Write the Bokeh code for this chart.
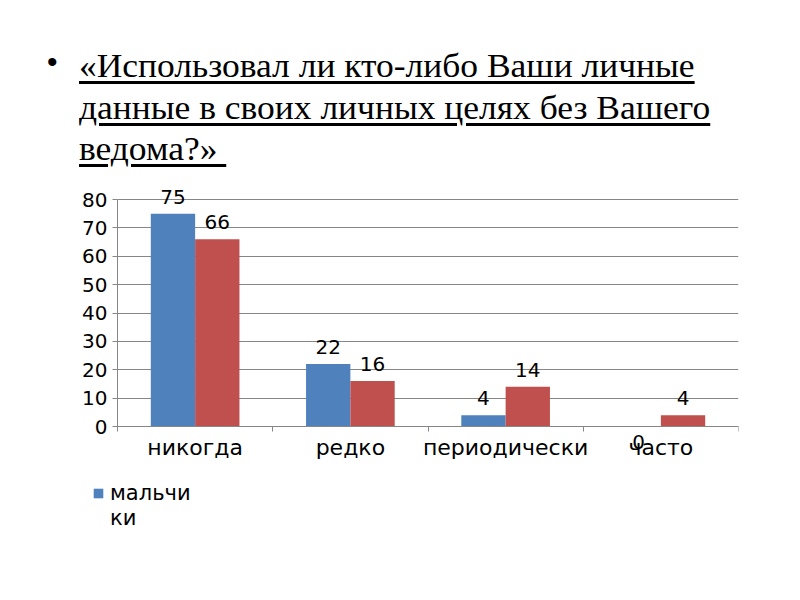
from bokeh.plotting import figure
from bokeh.models import (ColumnDataSource, FixedTicker, LabelSet, Legend, LegendItem,
                          Div, Range1d, Grid)
from bokeh.core.properties import value
from bokeh.transform import dodge
from bokeh.layouts import column
from bokeh.embed import file_html
from bokeh.resources import INLINE

# ---- data ----
title_lines = ["«Использовал ли кто-либо Ваши личные",
               "данные в своих личных целях без Вашего",
               "ведома?» "]
categories = ["никогда", "редко", "периодически", "часто"]
boys = [75, 22, 4, 0]
girls = [66, 16, 14, 4]
legend_labels = ["мальчи", "ки"]          # the legend entry is wrapped over two lines
y_ticks = [0, 10, 20, 30, 40, 50, 60, 70, 80]

BLUE = "#4F81BD"
RED = "#C0504D"
GRAY = "#868686"
FONT = "DejaVu Sans"

# ---- title (div) ----
title_html = (
    '<div style="position:relative;width:790px;height:180px;">'
    '<div style="position:absolute;left:47px;top:47px;font-family:\'Liberation Sans\',sans-serif;'
    'font-size:30px;line-height:30px;color:#000;">&#8226;</div>'
    '<div style="position:absolute;left:79px;top:46px;font-family:\'Liberation Serif\',serif;'
    'font-size:33px;line-height:41.5px;color:#000;white-space:pre;transform:scaleX(1.075);'
    'transform-origin:left top;text-decoration:underline;text-decoration-thickness:2.5px;'
    'text-underline-offset:4px;">'
    + "\n".join(title_lines) +
    '</div></div>'
)
title_div = Div(text=title_html, width=790, height=180, margin=0)

# ---- chart geometry (screen layout) ----
FIG_W, FIG_H = 790, 410
FR_L, FR_R, FR_T, FR_B = 50, 738, 3, 365          # frame edges inside the figure
X0_PX, Y0_PX, Y80_PX = 117, 246, 19               # where x=0, y=0 and y=80 fall inside the figure
n = len(categories)
ppx = (FR_R - X0_PX) / n
ppy = (Y0_PX - Y80_PX) / y_ticks[-1]
x_range = Range1d(-(X0_PX - FR_L) / ppx, n)
y_range = Range1d(-(FR_B - Y0_PX) / ppy, y_ticks[-1] + (Y80_PX - FR_T) / ppy)

xs = [i + 0.5 for i in range(n)]
src = ColumnDataSource(dict(
    x=xs, boys=boys, girls=girls,
    boys_lbl=[str(v) for v in boys], girls_lbl=[str(v) for v in girls],
    boys_off=[10 if v > 0 else -22 for v in boys],
    girls_off=[10 if v > 0 else -22 for v in girls],
))

p = figure(width=FIG_W, height=FIG_H, x_range=x_range, y_range=y_range,
           output_backend="svg", toolbar_location=None,
           min_border_left=FR_L, min_border_right=FIG_W - FR_R,
           min_border_top=FR_T, min_border_bottom=FIG_H - FR_B)
p.outline_line_color = None
p.background_fill_color = "white"

bw = 0.2855
off = 0.1428
r_boys = p.vbar(x=dodge("x", -off, range=p.x_range), top="boys", width=bw, source=src,
                fill_color=BLUE, line_color=None)
r_girls = p.vbar(x=dodge("x", off, range=p.x_range), top="girls", width=bw, source=src,
                 fill_color=RED, line_color=None)

for fld, lbl, o, d in (("boys", "boys_lbl", "boys_off", -off), ("girls", "girls_lbl", "girls_off", off)):
    ls = LabelSet(x=dodge("x", d, range=p.x_range), y=fld, text=lbl, y_offset=o, source=src,
                  text_align="center", text_baseline="alphabetic",
                  text_font=value(FONT), text_font_size="20px", text_color="black")
    p.add_layout(ls)

# y axis (drawn at x = 0)
p.yaxis.fixed_location = 0
p.yaxis.bounds = (0, y_ticks[-1])
p.yaxis.ticker = FixedTicker(ticks=y_ticks)
p.yaxis.axis_line_color = GRAY
p.yaxis.major_tick_line_color = GRAY
p.yaxis.major_tick_out = 5
p.yaxis.major_tick_in = 0
p.yaxis.minor_tick_line_color = None
p.yaxis.major_label_standoff = 5
p.yaxis.major_label_text_font = FONT
p.yaxis.major_label_text_font_size = "20px"
p.yaxis.major_label_text_color = "black"

p.ygrid.ticker = FixedTicker(ticks=y_ticks)
p.ygrid.grid_line_color = GRAY
p.xgrid.visible = False
if "cross_bounds" in Grid.properties():
    p.ygrid.cross_bounds = (0, n)
    p.ygrid.bounds = (0, y_ticks[-1])
else:
    p.ygrid.visible = False
    p.segment(x0=0, x1=n, y0=y_ticks, y1=y_ticks, line_color=GRAY, line_width=1)

# x axis (drawn at y = 0)
p.xaxis.fixed_location = 0
p.xaxis.bounds = (0, n)
p.xaxis.ticker = FixedTicker(ticks=xs, minor_ticks=list(range(n + 1)))
p.xaxis.major_label_overrides = {x: c for x, c in zip(xs, categories)}
p.xaxis.axis_line_color = GRAY
p.xaxis.major_tick_line_color = None
p.xaxis.major_tick_out = 5
p.xaxis.major_tick_in = 0
p.xaxis.minor_tick_line_color = GRAY
p.xaxis.minor_tick_out = 5
p.xaxis.minor_tick_in = 0
p.xaxis.major_label_standoff = 3
p.xaxis.major_label_text_font = FONT
p.xaxis.major_label_text_font_size = "22px"
p.xaxis.major_label_text_color = "black"

# legend: only the boys' series entry is visible, its label wrapped over two lines
r_wrap = p.scatter(x=[], y=[], marker="square", fill_alpha=0, line_alpha=0)
legend = Legend(items=[LegendItem(label=legend_labels[0], renderers=[r_boys]),
                       LegendItem(label=legend_labels[1], renderers=[r_wrap])],
                location=(92 - FR_L, FR_B - 350), border_line_color=None,
                background_fill_alpha=0, padding=0, margin=0, spacing=0,
                glyph_width=12, glyph_height=12, label_standoff=6, label_height=25,
                label_text_font=FONT, label_text_font_size="21px",
                label_text_color="black")
p.add_layout(legend, "center")

layout = column(title_div, p, spacing=0)
open("out.html", "w").write(file_html(layout, INLINE))
